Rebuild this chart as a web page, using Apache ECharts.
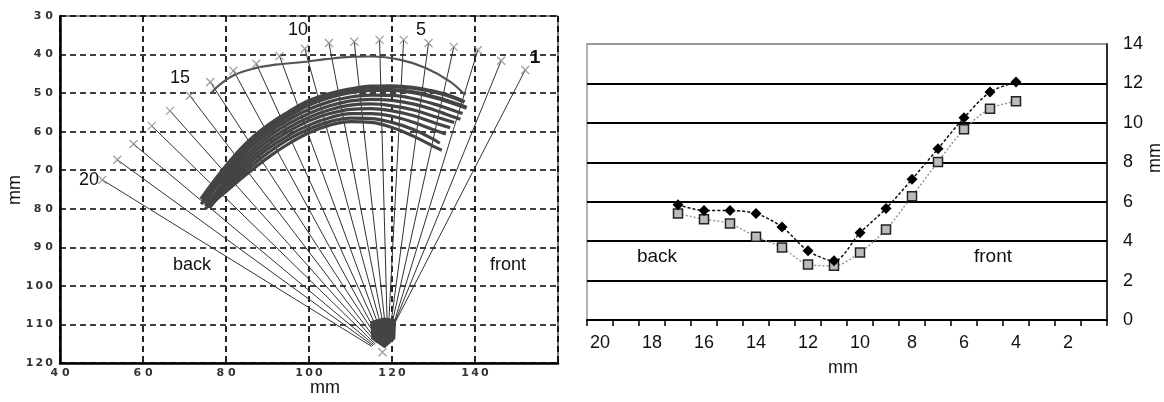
<!DOCTYPE html>
<html><head><meta charset="utf-8">
<script src="https://cdn.jsdelivr.net/npm/echarts@6/dist/echarts.min.js"></script>
<style>html,body{margin:0;padding:0;background:#fff}#c{width:1164px;height:402px}</style>
</head><body><div id="c"></div>
<script>
// ---- Left panel data (mm) ----
const markX = [152.1,146.3,140.7,134.9,128.8,122.8,117.0,110.9,104.8,99.0,92.9,87.3,81.8,76.2,71.3,66.5,62.1,57.7,53.8,50.2];
const markY = [44.0,41.6,38.8,38.0,37.0,36.2,36.2,36.7,37.0,38.5,40.4,42.4,44.2,47.1,50.7,54.6,58.5,63.2,67.3,72.5];
const hubX = [120.6,120.3,120.1,119.7,119.5,119.1,118.9,118.6,118.4,118.1,117.9,117.6,117.2,117.0,116.6,116.3,116.0,115.7,115.4,115.1];
const hubY = [109.8,110.4,110.9,111.2,111.7,112.0,112.4,112.6,113.1,113.3,113.6,113.9,114.1,114.4,114.6,114.8,115.1,115.3,115.5,115.7];
const numberLabels = ['1','5','10','15','20'];
const upperCurve = [[76.4,50],[78.5,47.8],[82,45.3],[86.8,43.6],[92,42.6],[98,42],[104,41.2],[110,40.6],[115,40.5],[121.8,41.3],[128,43.4],[134,47],[137.6,50.5]];
const band1 = [[74,77.5],[80,69],[85,63],[90,58.5],[95,55],[100,52],[105,50.2],[110,49],[115,48.3],[120,48.2],[125,48.6],[130,49.6],[134,50.8],[137.5,52.3]];
const band2 = [[74.5,78],[80,69.8],[85,64],[90,59.5],[95,56],[100,53],[105,51],[110,49.8],[115,49.2],[120,49.2],[125,49.8],[130,51],[134,52.3],[138,53.8]];
const band3 = [[75,78.5],[80,70.8],[85,65],[90,60.5],[95,57],[100,54.2],[105,52.2],[110,51],[115,50.5],[120,50.6],[125,51.4],[130,52.8],[134,54.2],[137,55.3]];
const band4 = [[74,78.8],[80,71.5],[85,66],[90,61.5],[95,58],[100,55.3],[105,53.3],[110,52],[115,51.6],[120,51.9],[125,52.8],[130,54.3],[133,55.5],[136.5,56.8]];
const band5 = [[75.5,79],[80,72.5],[85,67],[90,62.5],[95,59],[100,56.3],[105,54.3],[110,53.1],[115,52.8],[120,53.3],[125,54.3],[130,56],[135,57.6]];
const band6 = [[75,79.3],[80,73.3],[85,68],[90,63.5],[95,60],[100,57.2],[105,55.3],[110,54.2],[115,54],[120,54.6],[125,55.8],[130,57.6],[134,59]];
const band7 = [[76,79.5],[80,74],[85,69],[90,64.5],[95,61],[100,58.3],[105,56.4],[110,55.3],[115,55.3],[120,56],[125,57.5],[130,59.5],[133,60.6]];
const band8 = [[76,79.8],[80,74.8],[85,70],[90,65.6],[95,62],[100,59.3],[105,57.4],[110,56.5],[115,56.6],[120,57.6],[125,59.4],[130,62],[131.5,63]];
const band9 = [[75,80],[80,75.5],[85,71],[90,66.8],[95,63.2],[100,60.3],[105,58.3],[110,57.4],[115,57.6],[120,58.9],[125,61.1],[130,63.8],[132,64.8]];
const blobX = [114.8,118.0,121.0,120.8,118.2,115.0];
const blobY = [109.2,108.2,108.6,113.8,116.2,113.8];
const bottomMark = [117.7,117.2];

// ---- Right panel data ----
const categories = ['20','19','18','17','16','15','14','13','12','11','10','9','8','7','6','5','4','3','2','1'];
const seriesDark = [null,null,null,5.85,5.55,5.55,5.4,4.72,3.51,3.0,4.42,5.65,7.14,8.69,10.26,11.56,12.07,null,null,null];
const seriesLight = [null,null,null,5.40,5.11,4.89,4.22,3.68,2.82,2.75,3.43,4.59,6.28,8.02,9.67,10.72,11.1,null,null,null];

const chart = echarts.init(document.getElementById('c'));
const AR = 'Liberation Sans, Arial, sans-serif';
const spaced = v => { const s = String(v); return s.length > 2 ? s.split('').join('\u2009') : s.split('').join(' '); };
const bandSeries = [band1,band2,band3,band4,band5,band6,band7,band8,band9].map((b,i) => ({
  type:'line', xAxisIndex:0, yAxisIndex:0, data:b, smooth:0.4, showSymbol:false, silent:true,
  lineStyle:{color:'#444', width: i < 2 ? 4 : 3.2}, z:4
}));
const fanData = markX.map((x,i)=>({coords:[[x,markY[i]],[hubX[i],hubY[i]]]}));

chart.setOption({
  animation:false,
  grid:[
    {left:60, top:16, width:498, height:347, show:true, borderColor:'#000', borderWidth:1, backgroundColor:'#fff'},
    {left:587, top:44, width:520, height:276, show:true, borderColor:'#999', borderWidth:1.5, backgroundColor:'#fff'}
  ],
  xAxis:[
    {gridIndex:0, type:'value', min:40, max:160, interval:20,
     axisLine:{lineStyle:{color:'#000', width:2.5}}, axisTick:{show:false},
     axisLabel:{margin:5, fontSize:11, fontWeight:'bold', color:'#333', fontFamily:'DejaVu Sans',
       formatter:v => v===160 ? '' : spaced(v)},
     splitLine:{show:true, lineStyle:{color:'#000', width:1.7, type:[6,4]}}},
    {gridIndex:1, type:'category', data:categories, boundaryGap:true,
     axisLine:{lineStyle:{color:'#000', width:2}},
     axisTick:{show:true, interval:0, length:6, lineStyle:{color:'#000', width:1.5}},
     axisLabel:{interval:1, margin:14, fontSize:18, color:'#111', fontFamily:AR},
     splitLine:{show:false}}
  ],
  yAxis:[
    {gridIndex:0, type:'value', min:30, max:120, interval:10, inverse:true,
     axisLine:{show:true, lineStyle:{color:'#000', width:2.5}}, axisTick:{show:false},
     axisLabel:{margin:7, fontSize:11, fontWeight:'bold', color:'#333', fontFamily:'DejaVu Sans', formatter:spaced},
     splitLine:{show:true, lineStyle:{color:'#000', width:1.7, type:[6,4]}}},
    {gridIndex:1, type:'value', min:0, max:14, interval:2, position:'right',
     axisLine:{show:true, lineStyle:{color:'#000', width:1.5}}, axisTick:{show:false},
     axisLabel:{margin:16, fontSize:18, color:'#111', fontFamily:AR},
     splitLine:{show:true, lineStyle:{color:['#000','#000','#000','#000','#000','#000','#000','#999'], width:2}}}
  ],
  series:[
    {type:'lines', coordinateSystem:'cartesian2d', xAxisIndex:0, yAxisIndex:0, data:fanData, silent:true,
     lineStyle:{color:'#333', width:1, opacity:1}, z:3},
    {type:'custom', xAxisIndex:0, yAxisIndex:0, data:[[blobX[0],blobY[0]]], silent:true, z:3,
     renderItem:(p,api)=>({type:'polygon', shape:{points:blobX.map((x,i)=>api.coord([x,blobY[i]]))}, style:{fill:'#444'}})},
    {type:'line', xAxisIndex:0, yAxisIndex:0, data:upperCurve, smooth:0.4, showSymbol:false, silent:true,
     lineStyle:{color:'#555', width:2.2}, z:4},
    ...bandSeries,
    {type:'scatter', xAxisIndex:0, yAxisIndex:0, data:markX.map((x,i)=>[x,markY[i]]).concat([bottomMark]), silent:true,
     symbol:'path://M0,0L10,10M10,0L0,10', symbolSize:8,
     itemStyle:{color:'rgba(0,0,0,0)', borderColor:'#888', borderWidth:1.3}, z:5},
    {type:'line', xAxisIndex:1, yAxisIndex:1, data:seriesLight, smooth:0.3, silent:true,
     lineStyle:{color:'#999', width:1.5, type:[2,2]},
     symbol:'rect', symbolSize:9, itemStyle:{color:'#bbb', borderColor:'#222', borderWidth:1.5}, z:5},
    {type:'line', xAxisIndex:1, yAxisIndex:1, data:seriesDark, smooth:0.3, silent:true,
     lineStyle:{color:'#111', width:1.5, type:[3,2]},
     symbol:'diamond', symbolSize:11, itemStyle:{color:'#000'}, z:6}
  ],
  graphic:[
    {type:'text', x:325, y:388, style:{text:'mm', font:'18px '+AR, fill:'#111', align:'center', verticalAlign:'middle'}},
    {type:'text', x:15, y:190, rotation:Math.PI/2, style:{text:'mm', font:'18px '+AR, fill:'#111', align:'center', verticalAlign:'middle'}},
    {type:'text', x:192, y:265, style:{text:'back', font:'18px '+AR, fill:'#111', align:'center', verticalAlign:'middle'}},
    {type:'text', x:508, y:265, style:{text:'front', font:'18px '+AR, fill:'#111', align:'center', verticalAlign:'middle'}},
    {type:'text', x:535, y:58, style:{text:numberLabels[0], font:'bold 19px '+AR, fill:'#111', align:'center', verticalAlign:'middle'}},
    {type:'text', x:421, y:30, style:{text:numberLabels[1], font:'18px '+AR, fill:'#111', align:'center', verticalAlign:'middle'}},
    {type:'text', x:298, y:30, style:{text:numberLabels[2], font:'18px '+AR, fill:'#111', align:'center', verticalAlign:'middle'}},
    {type:'text', x:180, y:78, style:{text:numberLabels[3], font:'18px '+AR, fill:'#111', align:'center', verticalAlign:'middle'}},
    {type:'text', x:89, y:180, style:{text:numberLabels[4], font:'18px '+AR, fill:'#111', align:'center', verticalAlign:'middle'}},
    {type:'text', x:843, y:368, style:{text:'mm', font:'18px '+AR, fill:'#111', align:'center', verticalAlign:'middle'}},
    {type:'text', x:1155, y:158, rotation:Math.PI/2, style:{text:'mm', font:'18px '+AR, fill:'#111', align:'center', verticalAlign:'middle'}},
    {type:'text', x:657, y:257, style:{text:'back', font:'19px '+AR, fill:'#111', align:'center', verticalAlign:'middle'}},
    {type:'text', x:993, y:257, style:{text:'front', font:'19px '+AR, fill:'#111', align:'center', verticalAlign:'middle'}}
  ]
});
</script></body></html>
